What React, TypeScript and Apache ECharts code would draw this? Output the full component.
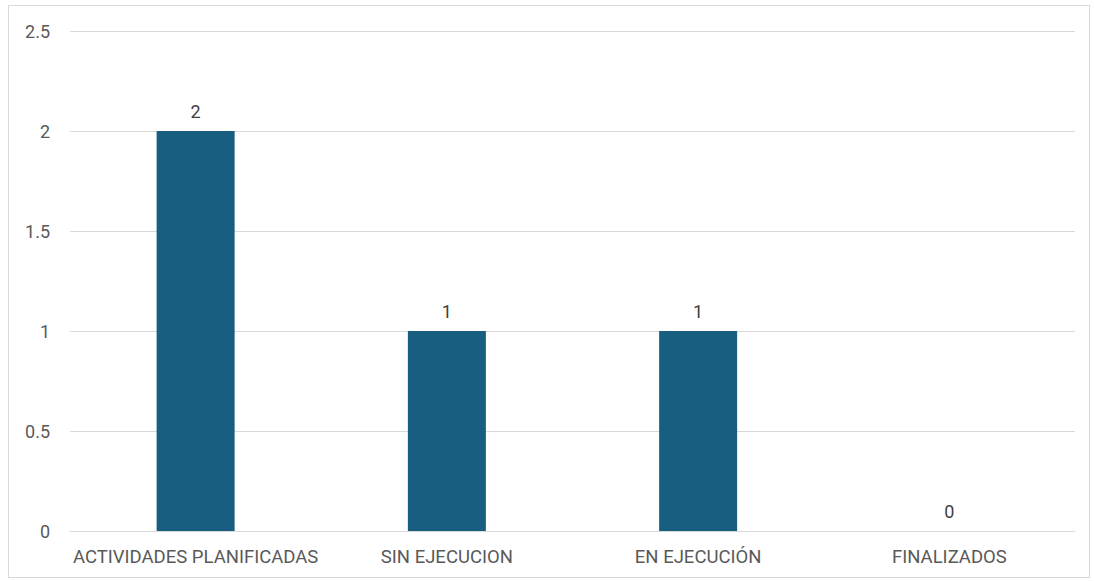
import React, { useEffect, useRef } from "react";
import * as echarts from "echarts";

const categories = ["ACTIVIDADES PLANIFICADAS", "SIN EJECUCION", "EN EJECUCIÓN", "FINALIZADOS"];
const values = [2, 1, 1, 0];

export default function App() {
  const ref = useRef<HTMLDivElement>(null);
  useEffect(() => {
    if (!ref.current) return;
    const chart = echarts.init(ref.current, null, { renderer: "svg" });
    chart.setOption({
      animation: false,
      backgroundColor: "transparent",
      grid: { left: 70, right: 19, top: 31, bottom: 50, containLabel: false },
      xAxis: {
        type: "category",
        data: categories,
        axisLine: { show: true, lineStyle: { color: "#d9d9d9", width: 1 } },
        axisTick: { show: false },
        axisLabel: { color: "#595959", fontSize: 18.5, fontFamily: "Roboto", margin: 16, interval: 0 },
      },
      yAxis: {
        type: "value",
        min: 0,
        max: 2.5,
        interval: 0.5,
        axisLine: { show: false },
        axisTick: { show: false },
        splitLine: { lineStyle: { color: "#d9d9d9", width: 1 } },
        axisLabel: { color: "#595959", fontSize: 18, fontFamily: "Roboto", margin: 20 },
      },
      series: [
        {
          type: "bar",
          data: values,
          barWidth: 78,
          itemStyle: { color: "#175e81" },
          label: {
            show: true,
            position: "top",
            distance: 11,
            color: "#404040",
            fontSize: 18,
            fontFamily: "Roboto",
          },
        },
      ],
    });
    return () => chart.dispose();
  }, []);
  return (
    <div style={{ position: "absolute", left: 0, top: 0, width: 1094, height: 581, background: "#fff" }}>
      <div
        style={{
          position: "absolute",
          left: 8,
          top: 5,
          width: 1082,
          height: 573,
          border: "1px solid #d9d9d9",
          boxSizing: "border-box",
        }}
      />
      <div ref={ref} style={{ position: "absolute", left: 0, top: 0, width: 1094, height: 581 }} />
    </div>
  );
}
